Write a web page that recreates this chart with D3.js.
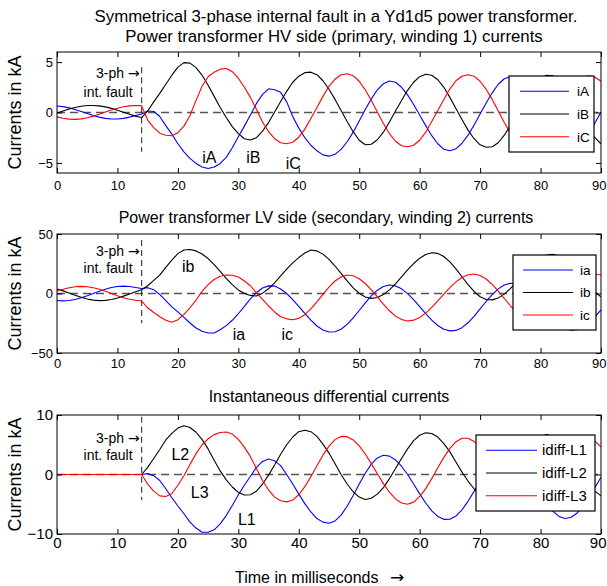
<!DOCTYPE html>
<html><head><meta charset="utf-8">
<script src="https://cdn.jsdelivr.net/npm/d3@7"></script>
<style>
body{margin:0;background:#fff;}
svg text{font-family:"Liberation Sans",Arial,Helvetica,sans-serif;fill:#000;}
</style>
</head><body>
<svg id="chart" width="607" height="586"></svg>
<script>
// ---------- data ----------
const timeMs = [0,1,2,3,4,5,6,7,8,9,10,11,12,13,14,15,16,17,18,19,20,21,22,23,24,25,26,27,28,29,30,31,32,33,34,35,36,37,38,39,40,41,42,43,44,45,46,47,48,49,50,51,52,53,54,55,56,57,58,59,60,61,62,63,64,65,66,67,68,69,70,71,72,73,74,75,76,77,78,79,80,81,82,83,84,85,86,87,88,89,90];
const faultTime = 14;
const xTicks = [0,10,20,30,40,50,60,70,80,90];

// HV side (primary) currents, kA
const hvA = [0.64,0.58,0.46,0.30,0.10,-0.10,-0.30,-0.46,-0.58,-0.64,-0.64,-0.58,-0.46,-0.30,-0.15,
 0.15,0.1,-0.4,-1.3,-2.15,-3.1,-3.9,-4.55,-5.05,-5.4,-5.55,-5.4,-5.05,-4.45,-3.5,-2.4,-1.35,-0.25,0.9,1.8,2.35,2.25,2.0,1.05,-0.4,
 -1.55,-2.5,-3.25,-3.8,-4.2,-4.33,-4.15,-3.65,-2.9,-1.95,-0.85,0.3,1.35,2.25,2.85,3.12,3.0,2.5,1.75,0.8,
 -0.25,-1.3,-2.3,-3.1,-3.65,-3.8,-3.6,-3.05,-2.25,-1.25,-0.15,0.95,1.95,2.8,3.35,3.55,3.4,2.9,2.15,1.15,
 0.05,-1.05,-2.1,-2.95,-3.5,-3.7,-3.5,-2.95,-2.1,-1.05,0.05];
const hvB = [-0.05,0.15,0.35,0.5,0.62,0.69,0.7,0.66,0.56,0.41,0.22,0.02,-0.18,-0.36,-0.5,
 0.15,1.05,1.9,2.8,3.7,4.5,4.95,4.9,4.45,3.7,2.7,1.6,0.5,-0.5,-1.4,-2.1,-2.6,-2.73,-2.5,-1.85,-1.0,0.05,1.1,2.1,3.0,
 3.6,3.95,4.0,3.75,3.15,2.3,1.3,0.2,-0.9,-1.9,-2.75,-3.2,-3.15,-2.7,-1.95,-0.95,0.15,1.2,2.2,3.0,
 3.55,3.8,3.7,3.25,2.5,1.5,0.4,-0.7,-1.75,-2.6,-3.2,-3.45,-3.4,-3.0,-2.25,-1.3,-0.2,0.9,1.95,2.8,
 3.4,3.7,3.65,3.25,2.55,1.6,0.5,-0.6,-1.7,-2.5,-3.1];
const hvC = [-0.43,-0.57,-0.66,-0.68,-0.63,-0.52,-0.36,-0.17,0.04,0.25,0.43,0.57,0.66,0.70,0.68,
 -0.75,-1.5,-2.05,-2.25,-2.3,-2.0,-1.35,-0.3,1.2,2.6,3.55,4.0,4.3,4.36,4.05,3.4,2.5,1.5,0.3,-0.95,-1.9,-2.6,-3.0,-3.1,-2.95,
 -2.45,-1.65,-0.6,0.5,1.6,2.6,3.3,3.75,3.85,3.65,3.1,2.25,1.2,0.05,-1.1,-2.1,-2.85,-3.3,-3.4,-3.25,
 -2.75,-1.95,-0.9,0.2,1.3,2.35,3.15,3.6,3.75,3.6,3.1,2.3,1.3,0.15,-1.0,-2.05,-2.9,-3.35,-3.5,-3.35,
 -2.85,-2.05,-1.0,0.1,1.2,2.25,3.05,3.5,3.65,3.5,3.1];

// LV side (secondary) currents, kA
const lvA = [-5.9,-6.2,-5.9,-5.0,-3.6,-1.9,0,1.9,3.6,5.0,5.9,6.2,5.9,5.0,4.2,
 4.9,3.2,-0.8,-6,-11.2,-15.5,-20,-24.8,-29,-31.7,-33.2,-33.2,-30.5,-27.0,-22.5,-17.0,-10.8,-4.5,0.8,4.6,6.4,6.2,3.8,0.0,-5.2,
 -10.8,-16.7,-22.4,-27.3,-30.7,-32.4,-32.2,-30.0,-26.0,-20.5,-14.3,-7.9,-2.0,2.8,5.9,7.2,6.4,3.9,-0.1,-5.2,
 -11.0,-16.9,-22.4,-26.9,-30.0,-31.4,-31.0,-28.7,-24.6,-19.2,-13.0,-6.7,-0.9,3.9,7.2,8.6,8.0,5.7,1.8,-3.3,
 -9.1,-15.1,-20.7,-25.5,-29.0,-30.8,-30.5,-28.6,-24.8,-19.7,-13.7];
const lvB = [3.8,2.2,0.4,-1.5,-3.2,-4.6,-5.6,-6.0,-5.8,-5.1,-3.8,-2.2,-0.4,1.5,3.2,
 6.5,11.0,15.5,22.0,28.0,33.5,36.5,37.0,35.8,33.2,29.4,24.2,18.5,12.8,7.5,3.0,0.0,-1.6,-2.1,0.3,4.0,9.0,14.8,20.5,25.8,
 30.2,34.0,36.5,35.8,33.1,28.7,23.1,16.9,10.6,4.8,0.2,-2.9,-4.1,-3.4,-0.9,3.1,8.1,13.9,19.8,25.2,
 29.7,32.8,34.2,33.7,31.1,26.6,20.7,14.1,7.5,1.7,-2.7,-5.1,-5.35,-3.7,-0.5,4.1,9.6,15.5,21.2,26.3,
 30.1,32.4,33.0,31.6,28.4,23.7,18.0,11.9,5.9,0.9,-2.8];
const lvC = [2.4,3.5,4.9,5.7,6.0,5.7,4.9,3.5,1.9,0,-1.9,-3.5,-4.9,-5.7,-6.3,
 -12.0,-16.0,-19.5,-22.5,-24.2,-22.0,-17.5,-12.0,-5.5,1.8,7.5,11.8,14.5,15.5,15.3,13.8,10.5,6.5,0.5,-5.0,-10.5,-15.5,-19.5,-21.3,-22.0,
 -20.9,-17.8,-13.0,-7.0,-0.7,5.4,10.5,13.9,15.5,14.9,12.4,8.4,3.1,-2.9,-9.0,-14.5,-19.0,-21.9,-23.1,-22.4,
 -20.2,-16.5,-11.7,-6.2,-0.5,5.0,9.8,13.5,15.7,16.4,15.2,12.2,7.6,2.0,-4.2,-10.3,-15.7,-19.9,-22.4,-22.95,
 -21.6,-18.5,-13.8,-8.2,-2.0,4.0,9.3,13.4,15.9,16.4,15.5];

// Instantaneous differential currents, kA
const diffL1 = [0,0,0,0,0,0,0,0,0,0,0,0,0,0,0,
 0.15,-0.2,-1.0,-2.4,-3.9,-5.3,-6.6,-8.0,-9.0,-9.7,-9.7,-9.3,-8.3,-6.9,-5.2,-3.4,-1.8,-0.3,1.2,2.2,2.6,2.3,1.5,0.0,-1.6,
 -3.3,-4.9,-6.3,-7.4,-8.0,-8.2,-7.81,-6.82,-5.34,-3.53,-1.61,0.22,1.74,2.79,3.24,3.09,2.45,1.39,0.0,-1.6,
 -3.25,-4.79,-6.1,-7.04,-7.54,-7.53,-6.98,-5.94,-4.51,-2.84,-1.08,0.57,1.97,2.96,3.45,3.4,2.8,1.71,0.26,-1.43,
 -3.17,-4.77,-6.1,-7.0,-7.39,-7.22,-6.52,-5.37,-3.86,-2.17,-0.47];
const diffL2 = [0,0,0,0,0,0,0,0,0,0,0,0,0,0,0,
 1.2,2.7,4.2,5.8,6.9,7.8,8.2,7.9,7.1,5.9,4.3,2.4,0.6,-0.9,-2.1,-3.0,-3.45,-3.4,-2.8,-1.6,-0.1,1.6,3.4,5.0,6.3,
 7.2,7.45,7.2,6.4,5.1,3.6,1.8,0.0,-1.6,-2.9,-3.8,-4.2,-4.0,-3.3,-2.2,-0.7,1.0,2.7,4.3,5.7,
 6.6,7.0,6.9,6.3,5.2,3.8,2.1,0.4,-1.1,-2.4,-3.4,-3.8,-3.7,-3.0,-1.9,-0.5,1.2,2.9,4.4,5.6,
 6.4,6.7,6.45,5.7,4.6,3.1,1.5,-0.1,-1.6,-2.8,-3.6];
const diffL3 = [0,0,0,0,0,0,0,0,0,0,0,0,0,0,0,
 -1.6,-2.8,-3.6,-3.7,-3.2,-1.8,-0.2,1.7,3.5,5.0,6.0,6.7,7.05,7.15,6.8,5.9,4.6,3.0,1.0,-1.0,-2.6,-3.8,-4.4,-4.6,-4.3,
 -3.4,-2.05,-0.36,1.47,3.25,4.77,5.86,6.4,6.36,5.81,4.8,3.44,1.83,0.12,-1.53,-2.98,-4.1,-4.79,-5.0,-4.64,
 -3.73,-2.37,-0.69,1.12,2.88,4.39,5.49,6.08,6.08,5.56,4.56,3.18,1.56,-0.17,-1.83,-3.27,-4.35,-4.97,-5.07,-4.63,
 -3.67,-2.3,-0.65,1.12,2.82,4.3,5.39,6.0,6.06,5.59,4.64];

const hvTicks = [-5,0,5];
const lvTicks = [-50,0,50];
const diffTicks = [-10,0,10];
const hvNames = ["iA","iB","iC"];
const lvNames = ["ia","ib","ic"];
const diffNames = ["idiff-L1","idiff-L2","idiff-L3"];
const seriesColors = ["#0000ff","#000000","#ff0000"];

// ---------- layout ----------
const FONT = '"Liberation Sans",Arial,Helvetica,sans-serif';
const ARROWFONT = '"DejaVu Sans",sans-serif';
const svg = d3.select("#chart");
const x = d3.scaleLinear().domain([0, 90]).range([57, 601]);

const panels = [
  { top: 52, bottom: 173, domain: [-6, 6], ticks: hvTicks, series: [hvA, hvB, hvC], names: hvNames,
    titles: [{t:"Symmetrical 3-phase internal fault in a Yd1d5 power transformer.", y:22, cx:336},
             {t:"Power transformer HV side (primary, winding 1) currents", y:42, cx:334}], tfs: 16.8,
    tickFs: 13, padX: 8,
    fault: [4.5, -3.9], note: [3.9, 2.0],
    legend: { x: 509, y: 76, w: 85, h: 76, l0: 520, l1: 569, tx: 577, fs: 13.5 },
    labels: [{t:"iA", tt:25.2, v:-4.4}, {t:"iB", tt:32.5, v:-4.4}, {t:"iC", tt:39.1, v:-5.0}] },
  { top: 234, bottom: 353, domain: [-50, 50], ticks: lvTicks, series: [lvA, lvB, lvC], names: lvNames,
    titles: [{t:"Power transformer LV side (secondary, winding 2) currents", y:223, cx:326}], tfs: 16,
    tickFs: 13, padX: 6,
    fault: [45, -25], note: [36, 21.5],
    legend: { x: 513, y: 255, w: 83, h: 75, l0: 523, l1: 573, tx: 580, fs: 13.5 },
    labels: [{t:"ib", tt:21.7, v:23}, {t:"ia", tt:30.1, v:-34}, {t:"ic", tt:38.1, v:-34}] },
  { top: 415, bottom: 534, domain: [-10, 10], ticks: diffTicks, series: [diffL1, diffL2, diffL3], names: diffNames,
    titles: [{t:"Instantaneous differential currents", y:402, cx:329}], tfs: 16,
    tickFs: 15, padX: 3,
    fault: [9.7, -4.3], note: [6.2, 3.35],
    legend: { x: 476, y: 435, w: 119, h: 76, l0: 486, l1: 537, tx: 542, fs: 15 },
    labels: [{t:"L2", tt:20.4, v:3.4}, {t:"L3", tt:23.6, v:-3.0}, {t:"L1", tt:31.4, v:-7.5}] }
];

panels.forEach((p, pi) => {
  const y = d3.scaleLinear().domain(p.domain).range([p.bottom, p.top]);
  const g = svg.append("g");
  const clipId = "clip" + pi;
  g.append("clipPath").attr("id", clipId).append("rect")
    .attr("x", x(0)).attr("y", p.top).attr("width", x(90) - x(0)).attr("height", p.bottom - p.top);

  // titles
  p.titles.forEach(tt => g.append("text").attr("x", tt.cx).attr("y", tt.y)
    .attr("text-anchor", "middle").style("font-size", p.tfs + "px").text(tt.t));

  const plot = g.append("g").attr("clip-path", `url(#${clipId})`);
  // zero reference line
  plot.append("line").attr("x1", x(0)).attr("x2", x(90)).attr("y1", y(0)).attr("y2", y(0))
    .attr("stroke", "#555").attr("stroke-width", 1.6).attr("stroke-dasharray", "8,5");
  // fault instant marker
  plot.append("line").attr("x1", x(faultTime)).attr("x2", x(faultTime))
    .attr("y1", y(p.fault[0])).attr("y2", y(p.fault[1]))
    .attr("stroke", "#333").attr("stroke-width", 1.1).attr("stroke-dasharray", "6,4");

  const line = d3.line().x((d, i) => x(timeMs[i])).y(d => y(d));
  p.series.forEach((s, si) => {
    plot.append("path").datum(s).attr("d", line).attr("fill", "none")
      .attr("stroke", seriesColors[si]).attr("stroke-width", 1.1).attr("stroke-linejoin", "round");
  });

  // axes (MATLAB style: inward ticks on all sides)
  const axB = d3.axisBottom(x).tickValues(xTicks).tickSizeInner(-5).tickSizeOuter(0).tickPadding(p.padX);
  const axT = d3.axisTop(x).tickValues(xTicks).tickSizeInner(-5).tickSizeOuter(0).tickFormat("");
  const axL = d3.axisLeft(y).tickValues(p.ticks).tickSizeInner(-5).tickSizeOuter(0).tickPadding(4);
  const axR = d3.axisRight(y).tickValues(p.ticks).tickSizeInner(-5).tickSizeOuter(0).tickFormat("");
  [[axB, `translate(0,${p.bottom})`], [axT, `translate(0,${p.top})`],
   [axL, `translate(${x(0)},0)`], [axR, `translate(${x(90)},0)`]].forEach(([ax, tr], ai) => {
    const a = g.append("g").attr("transform", tr).call(ax);
    a.select(".domain").remove();
    a.selectAll("line").attr("stroke", "#000");
    a.selectAll("text").style("font-size", p.tickFs + "px").style("font-family", FONT).attr("fill", "#000");
    if (ai === 0) {
      // keep the last label inside the picture
      a.selectAll(".tick").filter(d => d === 90).select("text")
        .attr("text-anchor", "end").attr("x", 606 - x(90));
    }
  });
  g.append("rect").attr("x", x(0)).attr("y", p.top).attr("width", x(90) - x(0)).attr("height", p.bottom - p.top)
    .attr("fill", "none").attr("stroke", "#000").attr("stroke-width", 1);

  // y label
  g.append("text").attr("transform", `translate(21,${(p.top + p.bottom) / 2}) rotate(-90)`)
    .attr("text-anchor", "middle").style("font-size", "18px").text("Currents in kA");

  // fault annotation
  const n1 = g.append("text").attr("x", x(faultTime) - 2).attr("y", y(p.note[0]) + 5).attr("text-anchor", "end")
    .style("font-size", "14px");
  n1.append("tspan").text("3-ph ");
  n1.append("tspan").style("font-family", ARROWFONT).text("\u2192");
  g.append("text").attr("x", x(faultTime) - 9).attr("y", y(p.note[1]) + 5).attr("text-anchor", "end")
    .style("font-size", "14px").text("int. fault");

  // curve labels
  p.labels.forEach(lb => g.append("text").attr("x", x(lb.tt)).attr("y", y(lb.v) + 6)
    .attr("text-anchor", "middle").style("font-size", "16px").text(lb.t));

  // legend
  const L = p.legend;
  const lg = g.append("g");
  lg.append("rect").attr("x", L.x).attr("y", L.y).attr("width", L.w).attr("height", L.h)
    .attr("fill", "#fff").attr("stroke", "#000").attr("stroke-width", 1.2);
  p.names.forEach((nm, i) => {
    const yy = L.y + L.h * (0.2 + 0.3 * i);
    lg.append("line").attr("x1", L.l0).attr("x2", L.l1).attr("y1", yy).attr("y2", yy)
      .attr("stroke", seriesColors[i]).attr("stroke-width", 1.1);
    lg.append("text").attr("x", L.tx).attr("y", yy).attr("dy", "0.35em")
      .style("font-size", L.fs + "px").text(nm);
  });
});

// x-axis label
const xl = svg.append("text").attr("x", 235).attr("y", 583).style("font-size", "16px");
xl.append("tspan").text("Time in milliseconds");
xl.append("tspan").attr("x", 390).style("font-family", ARROWFONT).style("font-size", "17px").text("\u2192");
</script>
</body></html>
